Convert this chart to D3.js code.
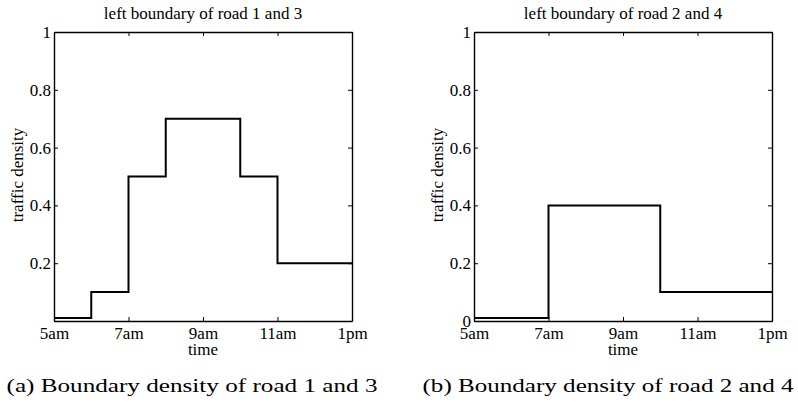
<!DOCTYPE html>
<html>
<head>
<meta charset="utf-8">
<script src="https://cdn.jsdelivr.net/npm/d3@7"></script>
<style>
body{margin:0;background:#fff;}
text{font-family:"Liberation Serif","Times New Roman",serif;fill:#000;}
</style>
</head>
<body>
<div id="chart"></div>
<script>
// hours since midnight, step edges
var xTicks=[5,7,9,11,13];
var xTickLabels=["5am","7am","9am","11am","1pm"];
var yTicks=[0,0.2,0.4,0.6,0.8,1];
var yTickLabels=["0","0.2","0.4","0.6","0.8","1"];

var edgesA=[5,6,7,8,10,11,13];
var densA=[0.01,0.1,0.5,0.7,0.5,0.2];
var edgesB=[5,7,10,13];
var densB=[0.01,0.4,0.1];

var titles=["left boundary of road 1 and 3","left boundary of road 2 and 4"];
var captions=["(a) Boundary density of road 1 and 3","(b) Boundary density of road 2 and 4"];

var width=798,height=403;
var svg=d3.select("#chart").append("svg").attr("width",width).attr("height",height);

var panels=[
	{left:54,right:352,edges:edgesA,dens:densA,showZero:false,capX:192},
	{left:474,right:772,edges:edgesB,dens:densB,showZero:true,capX:608}
];
var plotTop=32,plotBottom=321;

panels.forEach(function(p,k){
	var g=svg.append("g");
	var x=d3.scaleLinear().domain([5,13]).range([p.left,p.right]);
	var y=d3.scaleLinear().domain([0,1]).range([plotBottom,plotTop]);

	//step points
	var pts=[];
	for(var i=0;i<p.dens.length;i++){
		pts.push([p.edges[i],p.dens[i]]);
		pts.push([p.edges[i+1],p.dens[i]]);
	}

	//axes, ticks inward on all sides
	g.append("g").attr("transform","translate(0,"+plotBottom+")")
		.call(d3.axisBottom(x).tickValues(xTicks).tickSizeInner(-4).tickSizeOuter(0).tickPadding(6).tickFormat(function(d,i){return xTickLabels[i];}));
	g.append("g").attr("transform","translate(0,"+plotTop+")")
		.call(d3.axisTop(x).tickValues(xTicks).tickSizeInner(-4).tickSizeOuter(0).tickFormat(""));
	g.append("g").attr("transform","translate("+p.left+",0)")
		.call(d3.axisLeft(y).tickValues(yTicks).tickSizeInner(-4).tickSizeOuter(0).tickPadding(3).tickFormat(function(d,i){
			if(i==0&&!p.showZero) return "";
			return yTickLabels[i];
		}));
	g.append("g").attr("transform","translate("+p.right+",0)")
		.call(d3.axisRight(y).tickValues(yTicks).tickSizeInner(-4).tickSizeOuter(0).tickFormat(""));
	g.selectAll(".domain").attr("stroke","#000").attr("stroke-width",1.4);
	g.selectAll(".tick line").attr("stroke","#000").attr("stroke-width",1);
	g.selectAll(".tick text").attr("font-size",17).attr("font-family","Liberation Serif");

	g.append("path").datum(pts)
		.attr("fill","none").attr("stroke","#000").attr("stroke-width",2)
		.attr("d",d3.line().x(function(d){return x(d[0]);}).y(function(d){return y(d[1]);}));

	var cx=(p.left+p.right)/2;
	g.append("text").attr("x",cx).attr("y",19).attr("text-anchor","middle")
		.attr("font-size",17).text(titles[k]);
	g.append("text").attr("x",cx).attr("y",355).attr("text-anchor","middle")
		.attr("font-size",17).text("time");
	g.append("text").attr("transform","translate("+(p.left-31)+",175) rotate(-90)")
		.attr("text-anchor","middle").attr("font-size",17).text("traffic density");
	g.append("text").attr("x",p.capX).attr("y",392).attr("text-anchor","middle")
		.attr("font-size",18).attr("textLength",371).attr("lengthAdjust","spacingAndGlyphs")
		.text(captions[k]);
});
</script>
</body>
</html>
